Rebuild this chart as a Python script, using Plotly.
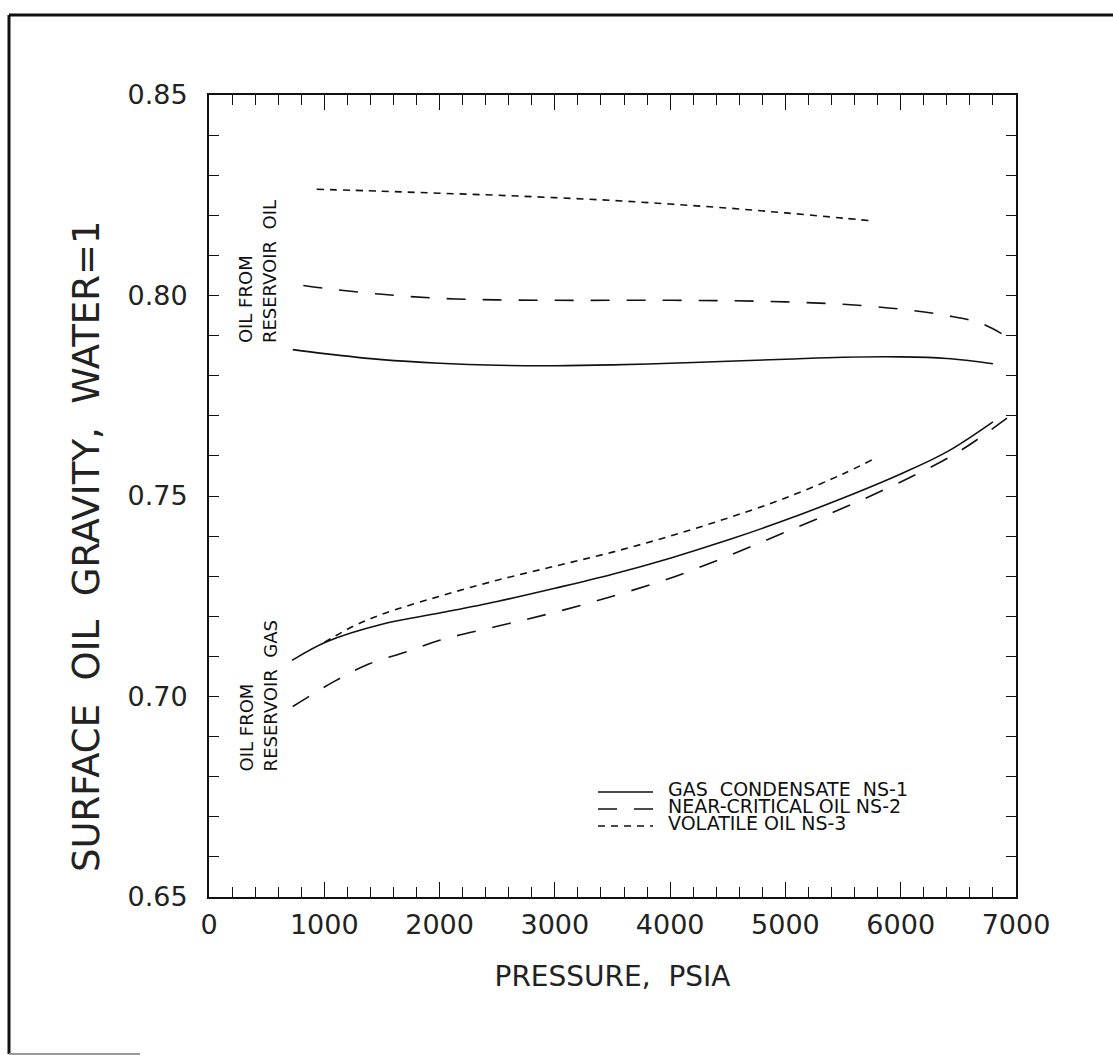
import plotly.graph_objects as go

# Surface oil gravity of produced liquids vs. pressure (North Sea fluids NS-1..NS-3)

# --- oil from reservoir oil (upper branch) ---
ns1_oil_p = [726, 1000, 1500, 2000, 2500, 3000, 3500, 4000, 4500, 5000, 5500, 6000, 6400, 6800]
ns1_oil_g = [0.7865, 0.7855, 0.7840, 0.7831, 0.7826, 0.7825, 0.7827, 0.7831, 0.7836, 0.7841,
             0.7846, 0.7847, 0.7843, 0.7830]

ns2_oil_p = [818, 1000, 1500, 2000, 2500, 3000, 3500, 4000, 4500, 5000, 5500, 6000, 6400, 6700, 6950]
ns2_oil_g = [0.8025, 0.8018, 0.8003, 0.7993, 0.7989, 0.7988, 0.7988, 0.7988, 0.7987, 0.7984,
             0.7978, 0.7966, 0.7950, 0.7930, 0.7892]

ns3_oil_p = [934, 1500, 2000, 2500, 3000, 3500, 4000, 4500, 5000, 5500, 5750]
ns3_oil_g = [0.8265, 0.8260, 0.8255, 0.8250, 0.8244, 0.8237, 0.8228, 0.8218, 0.8206, 0.8193, 0.8186]

# --- oil from reservoir gas (lower branch) ---
ns1_gas_p = [720, 1025, 1500, 2000, 2500, 3000, 3500, 4000, 4500, 5000, 5500, 6000, 6400, 6800]
ns1_gas_g = [0.7090, 0.7137, 0.7180, 0.7208, 0.7237, 0.7270, 0.7305, 0.7345, 0.7390, 0.7440,
             0.7495, 0.7555, 0.7610, 0.7685]

ns2_gas_p = [727, 1083, 1386, 1719, 2008, 2500, 3000, 3500, 4000, 4500, 5000, 5500, 6000, 6500, 6950]
ns2_gas_g = [0.6975, 0.7037, 0.7081, 0.7112, 0.7141, 0.7175, 0.7210, 0.7250, 0.7295, 0.7350,
             0.7410, 0.7470, 0.7535, 0.7610, 0.7700]

ns3_gas_p = [1000, 1250, 1500, 2000, 2500, 3000, 3500, 4000, 4500, 5000, 5500, 5750]
ns3_gas_g = [0.7135, 0.7175, 0.7205, 0.7250, 0.7290, 0.7325, 0.7360, 0.7400, 0.7445, 0.7495,
             0.7555, 0.7590]

legend_names = ["GAS CONDENSATE NS-1", "NEAR-CRITICAL OIL NS-2", "VOLATILE OIL NS-3"]
x_ticks = [0, 1000, 2000, 3000, 4000, 5000, 6000, 7000]
y_ticks = [0.65, 0.70, 0.75, 0.80, 0.85]

INK = "#111111"
TXT = "#222222"
FONT = "DejaVu Sans"
DASHES = ["solid", "19px,17px", "7px,6px"]
NB = "\u00a0"

fig = go.Figure()
series = [
    (ns1_oil_p, ns1_oil_g, 0), (ns2_oil_p, ns2_oil_g, 1), (ns3_oil_p, ns3_oil_g, 2),
    (ns1_gas_p, ns1_gas_g, 0), (ns2_gas_p, ns2_gas_g, 1), (ns3_gas_p, ns3_gas_g, 2),
]
for p, g, k in series:
    fig.add_trace(go.Scatter(
        x=p, y=g, mode="lines", line=dict(color=INK, width=1.6, dash=DASHES[k], shape="spline"),
        showlegend=False, hoverinfo="skip"))

# plot-area geometry in pixels (used to place decorations in paper units)
W, H = 1113, 1055
L, R, T, B = 209, 1016, 95, 897
pw, ph = R - L, B - T


def px(xp):
    return (xp - L) / pw


def py(yp):
    return (B - yp) / ph


shapes = []
annotations = []

# hand-drawn legend key
rows_y = [789, 806, 823]
for k, (name, yp) in enumerate(zip(legend_names, rows_y)):
    shapes.append(dict(type="line", xref="paper", yref="paper",
                       x0=px(598), x1=px(653), y0=py(yp + 3), y1=py(yp + 3),
                       line=dict(color=INK, width=1.4, dash=DASHES[k])))
    annotations.append(dict(xref="paper", yref="paper", x=px(666), y=py(yp),
                            xanchor="left", yanchor="middle", showarrow=False,
                            text=name.replace(" ", NB * 2 if k == 0 else NB),
                            font=dict(family=FONT, size=19, color=INK)))

# branch labels
annotations.append(dict(xref="x", yref="y", x=215, y=0.7877, xanchor="left", yanchor="bottom",
                        textangle=-90, showarrow=False, align="left",
                        text="OIL FROM<br>RESERVOIR" + NB * 2 + "OIL",
                        font=dict(family=FONT, size=18, color=INK)))
annotations.append(dict(xref="x", yref="y", x=215, y=0.6809, xanchor="left", yanchor="bottom",
                        textangle=-90, showarrow=False, align="left",
                        text="OIL FROM<br>RESERVOIR" + NB * 2 + "GAS",
                        font=dict(family=FONT, size=18, color=INK)))

# y-axis title, set a little below the plot centre
annotations.append(dict(xref="paper", yref="paper", x=px(86), y=py(546),
                        xanchor="center", yanchor="middle", textangle=-90, showarrow=False,
                        text=("SURFACE" + NB * 2 + "OIL" + NB * 2 + "GRAVITY," + NB * 2 + "WATER=1"),
                        font=dict(family=FONT, size=37, color=TXT)))

# page frame
shapes.append(dict(type="line", xref="paper", yref="paper", x0=px(9), x1=px(1113),
                   y0=py(15), y1=py(15), line=dict(color=INK, width=3)))
shapes.append(dict(type="line", xref="paper", yref="paper", x0=px(9), x1=px(9),
                   y0=py(15), y1=py(1054), line=dict(color=INK, width=3)))
shapes.append(dict(type="line", xref="paper", yref="paper", x0=px(9), x1=px(140),
                   y0=py(1054), y1=py(1054), line=dict(color="#999999", width=2)))

fig.update_layout(
    width=W, height=H, margin=dict(l=L, r=W - R, t=T, b=H - B),
    paper_bgcolor="white", plot_bgcolor="white",
    shapes=shapes, annotations=annotations,
    font=dict(family=FONT, color=INK),
)
fig.update_xaxes(
    range=[0, 7000], tickvals=x_ticks, ticktext=[str(v) for v in x_ticks],
    ticks="inside", ticklen=15, tickwidth=1.3, tickcolor=INK,
    minor=dict(dtick=200, ticks="inside", ticklen=10, tickwidth=1.3, tickcolor=INK),
    showline=True, linewidth=2, linecolor=INK, mirror="ticks", showgrid=False, zeroline=False,
    tickfont=dict(family=FONT, size=27, color=TXT), ticklabelstandoff=3,
    title=dict(text="PRESSURE," + NB * 2 + "PSIA", font=dict(family=FONT, size=28, color=TXT),
               standoff=27),
)
fig.update_yaxes(
    range=[0.65, 0.85], tickvals=y_ticks, ticktext=[f"{v:.2f}" for v in y_ticks],
    ticks="inside", ticklen=10, tickwidth=1.3, tickcolor=INK,
    minor=dict(dtick=0.01, ticks="inside", ticklen=10, tickwidth=1.3, tickcolor=INK),
    showline=True, linewidth=2, linecolor=INK, mirror="ticks", showgrid=False, zeroline=False,
    tickfont=dict(family=FONT, size=27, color=TXT), ticklabelstandoff=14,
)

fig.write_html("out.html")
